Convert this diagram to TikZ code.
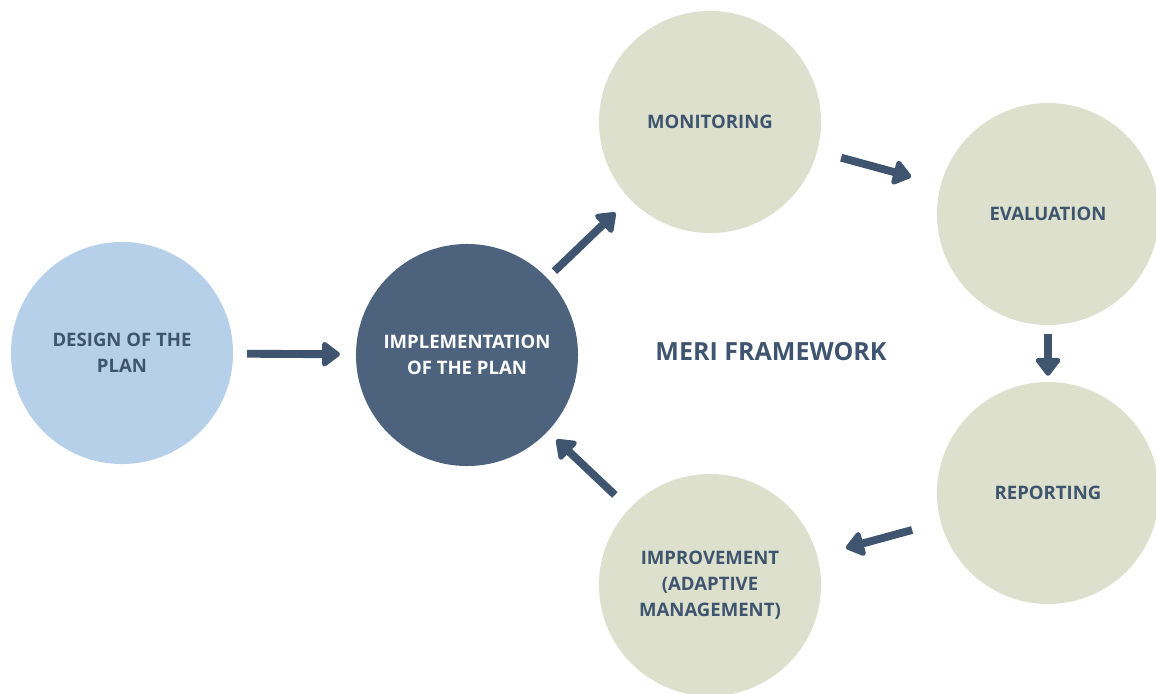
\documentclass[tikz,border=0pt]{standalone}
\usepackage{fontspec}
\setmainfont{Open Sans}
\usetikzlibrary{arrows.meta}

\definecolor{planblue}{RGB}{183,208,233}
\definecolor{darkslate}{RGB}{77,99,125}
\definecolor{sage}{RGB}{220,224,204}
\definecolor{inkblue}{RGB}{63,85,111}

\tikzset{
  stage/.style={circle,minimum size=5.55cm,inner sep=0pt,align=center,
    font=\bfseries\fontsize{13.2}{18.4}\selectfont,text=inkblue},
  flow/.style={draw=inkblue,line width=5.6pt,
    -{Triangle[round,length=14pt,width=20pt]}}
}

\begin{document}
\begin{tikzpicture}[x=0.025cm,y=-0.025cm]
\useasboundingbox (0,0) rectangle (1156,693);
\clip (0,0) rectangle (1156,693);

% the six stages
\node[stage,fill=planblue] (design) at (122,353) {DESIGN OF THE\\PLAN};
\node[stage,fill=darkslate,text=white] (impl) at (467,355) {IMPLEMENTATION\\OF THE PLAN};
\node[stage,fill=sage] (monitor) at (710,122) {MONITORING};
\node[stage,fill=sage] (eval) at (1048,214) {EVALUATION};
\node[stage,fill=sage] (report) at (1048,493) {REPORTING};
\node[stage,fill=sage] (improve) at (710,585) {IMPROVEMENT\\(ADAPTIVE\\MANAGEMENT)};

\node[font=\bfseries\fontsize{17.8}{20}\selectfont,text=inkblue] (title) at (771,352) {MERI FRAMEWORK};

% the cycle
\draw[flow,shorten <=14*0.7pt,shorten >=16*0.7pt] (design) -- (impl);
\draw[flow,shorten <=10*0.7pt,shorten >=20*0.7pt] (impl) -- (monitor);
\draw[flow,shorten <=25*0.7pt,shorten >=31*0.7pt] (monitor) -- (eval);
\draw[flow,shorten <=9*0.7pt,shorten >=6*0.7pt] (eval) -- (report);
\draw[flow,shorten <=30*0.7pt,shorten >=30*0.7pt] (report) -- (improve);
\draw[flow,shorten <=20*0.7pt,shorten >=12*0.7pt] (improve) -- (impl);

\end{tikzpicture}
\end{document}
